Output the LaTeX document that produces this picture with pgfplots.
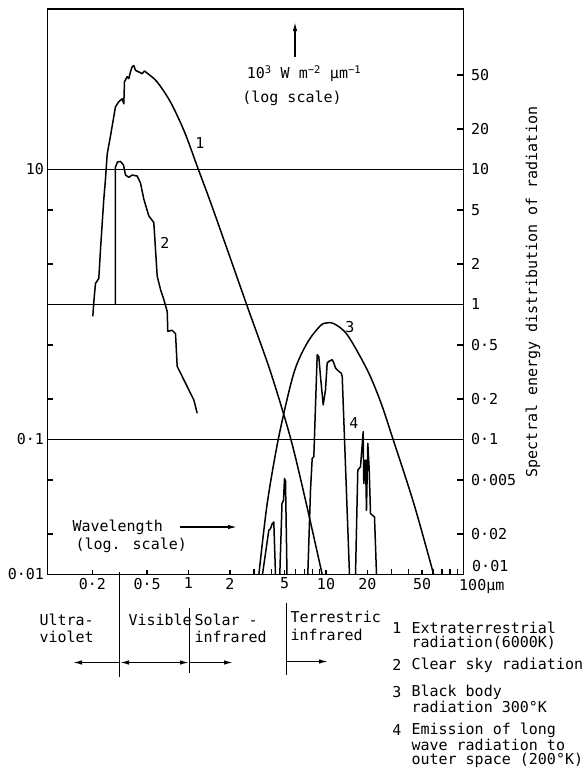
\documentclass[border=0pt]{standalone}
\usepackage{pgfplots}
\pgfplotsset{compat=1.18}
\usepackage{fontspec}
\setmainfont{DejaVu Sans Mono}
\usetikzlibrary{arrows.meta}
\newcommand{\lbl}{\fontsize{15}{15}\selectfont}
\pgfplotsset{cv/.style={black, solid, line width=1.5pt, line join=round, mark=none}}
\begin{document}
\begin{tikzpicture}[>={Latex[length=9pt,width=4.5pt]}]
\useasboundingbox (0pt,0pt) rectangle (585pt,-774pt);
\begin{axis}[
  at={(47.5pt,-574.5pt)}, anchor=south west,
  width=416pt, height=565.5pt, scale only axis,
  xmode=log, ymode=log,
  xmin=0.0943, xmax=100, ymin=0.01, ymax=154.5,
  axis line style={line width=1.6pt},
  tick align=inside,
  tick style={black, line width=1.4pt},
  major tick length=5pt, minor tick length=6pt,
  xtick pos=bottom, ytick pos=left,
  xtick={0.2,0.5,1,2,5,10,20,50},
  xticklabels={0·2,0·5,1,2,5,10,20,50},
  minor xtick={3,4,6,7,8,9,30,40,60,70,80,90},
  ytick={0.01,0.1,1,10},
  yticklabels={0·01,0·1,,10},
  minor ytick={0.02,0.05,0.2,0.5,2,5},
  ymajorgrids, major grid style={black, line width=1.4pt},
  ticklabel style={font=\lbl},
]
% 1 Extraterrestrial radiation (jagged rise)
\addplot[cv] coordinates {(0.2014,0.818)(0.2055,1.089)(0.2107,1.433)(0.2227,1.561)(0.2291,2.564)(0.2421,6.035)(0.2490,8.500)(0.2563,13.04)(0.2709,17.75)(0.2944,29.16)(0.3112,31.76)(0.3295,33.44)(0.3384,30.69)(0.3424,44.74)(0.3583,48.73)(0.3680,47.09)(0.3786,53.08)(0.3895,57.82)(0.4001,58.83)(0.4116,54.28)(0.4350,52.81)(0.4605,51.29)(0.4786,53.72)(0.5058,51.29)};
% 1 smooth descent
\addplot[cv, smooth, tension=0.5] coordinates {(0.5058,51.29)(0.5920,44.50)(0.7397,31.60)(0.9352,19.0)(1.176,10.09)(1.445,5.734)(1.912,2.564)(2.673,0.9714)(3.948,0.3176)(5.520,0.1026)(7.095,0.0355)(9.385,0.01)};
% 2 Clear sky radiation
\addplot[cv] coordinates {(0.2944,1.0)(0.2944,10.44)(0.3045,11.37)(0.3202,11.47)(0.3367,10.80)(0.3481,9.102)(0.3680,8.750)(0.3895,9.102)(0.4235,8.947)(0.4477,7.937)(0.4731,6.035)(0.5143,4.535)(0.5594,4.050)(0.5754,2.564)(0.5920,1.623)(0.6258,1.293)(0.6614,1.089)(0.7000,0.887)(0.7071,0.633)(0.7613,0.644)(0.8045,0.609)(0.8275,0.3477)(0.9000,0.2930)(1.005,0.2334)(1.093,0.1966)(1.157,0.1566)};
% 3 Black body 300K
\addplot[cv, smooth, tension=0.5] coordinates {(3.25,0.01)(3.736,0.03355)(4.536,0.1049)(5.834,0.3106)(7.300,0.519)(9.120,0.698)(10.20,0.731)(11.40,0.722)(14.26,0.598)(19.93,0.3287)(24.91,0.191)(30.3,0.105)(43.5,0.0336)(60.7,0.01)};
% 4 Emission to outer space
\addplot[cv] coordinates {(3.452,0.01)(3.837,0.02123)(3.948,0.02187)(4.061,0.02382)(4.172,0.02447)(4.293,0.01)};
\addplot[cv] coordinates {(4.613,0.01)(4.786,0.03355)(4.908,0.03549)(4.991,0.05146)(5.075,0.04913)(5.204,0.01)};
\addplot[cv] coordinates {(7.374,0.01)(7.715,0.04212)(7.937,0.07249)(8.155,0.07450)(8.630,0.4249)(8.864,0.4107)(9.120,0.2930)(9.541,0.1805)(9.917,0.2334)(10.20,0.3686)(10.48,0.3789)(11.10,0.3900)(11.40,0.3686)(11.73,0.3384)(12.39,0.3192)(12.90,0.3106)(13.12,0.2930)(14.82,0.01)};
\addplot[cv] coordinates {(16.39,0.01)(17.03,0.05933)(17.82,0.06279)(18.64,0.1143)(18.83,0.04724)(19.38,0.07041)(19.70,0.02990)(20.14,0.09370)(20.62,0.05933)(21.07,0.02827)(22.53,0.02667)(23.30,0.01)};
\end{axis}
\begin{axis}[
  at={(47.5pt,-574.5pt)}, anchor=south west,
  width=416pt, height=565.5pt, scale only axis,
  xmode=log, ymode=log,
  xmin=0.0943, xmax=100, ymin=0.01, ymax=154.5,
  hide x axis, axis y line*=right,
  axis line style={line width=1.6pt},
  tick align=inside,
  tick style={black, line width=1.4pt},
  major tick length=7pt, minor tick length=0pt,
  ytick={0.01,0.02,0.05,0.1,0.2,0.5,1,2,5,10,20,50},
  yticklabels={,0·02,0·005,0·1,0·2,0·5,1,2,5,10,20,50},
  ticklabel style={font=\lbl},
  yticklabel style={xshift=4pt},
]
\addplot[draw=none] coordinates {(1,1)};
\end{axis}
\begin{scope}[x=1pt,y=1pt]
\node[font=\lbl, anchor=west, inner sep=0pt] at (472,-566) {0·01};
\node[font=\lbl] at (200,-143) {1};
\node[font=\lbl] at (165,-243) {2};
\node[font=\lbl] at (350,-327) {3};
\node[font=\lbl] at (354,-423) {4};
\node[font=\lbl, rotate=90] at (533,-292) {Spectral energy distribution of radiation};
\draw[->, line width=1.4pt] (295,-57) -- (295,-22);
\node[font=\lbl] at (304,-74) {10\textsuperscript{3} W m\textsuperscript{−2} µm\textsuperscript{−1}};
\node[font=\lbl] at (292,-98) {(log scale)};
\node[font=\lbl, anchor=west] at (69,-527) {Wavelength};
\node[font=\lbl, anchor=west] at (72,-545) {(log. scale)};
\draw[->, line width=1.3pt] (180,-527) -- (237,-527);
\node[font=\lbl, anchor=west, inner sep=0pt] at (459,-586) {100µm};
\draw[line width=1.4pt] (119.5,-572) -- (119.5,-677);
\draw[line width=1.4pt] (189.5,-608) -- (189.5,-673);
\draw[line width=1.4pt] (286.5,-603) -- (286.5,-675);
\draw[->, line width=1.3pt] (119,-662.5) -- (73,-662.5);
\draw[<->, line width=1.3pt] (120,-662.5) -- (189,-662.5);
\draw[->, line width=1.3pt] (190,-662.5) -- (233,-662.5);
\draw[->, line width=1.3pt] (287,-661.5) -- (328,-661.5);
\node[font=\lbl, anchor=west] at (36,-620) {Ultra-};
\node[font=\lbl, anchor=west] at (36,-637) {violet};
\node[font=\lbl, anchor=west] at (125,-620) {Visible};
\node[font=\lbl, anchor=west] at (191,-620) {Solar -};
\node[font=\lbl, anchor=west] at (191,-637) {infrared};
\node[font=\lbl, anchor=west] at (287,-617) {Terrestric};
\node[font=\lbl, anchor=west] at (287,-635) {infrared};
\node[font=\lbl] at (397,-628) {1};
\node[font=\lbl, anchor=west] at (408,-628) {Extraterrestrial};
\node[font=\lbl, anchor=west] at (408,-643) {radiation(6000K)};
\node[font=\lbl] at (397,-665) {2};
\node[font=\lbl, anchor=west] at (408,-665) {Clear sky radiation};
\node[font=\lbl] at (397,-692) {3};
\node[font=\lbl, anchor=west] at (408,-692) {Black body};
\node[font=\lbl, anchor=west] at (408,-707) {radiation 300°K};
\node[font=\lbl] at (397,-730) {4};
\node[font=\lbl, anchor=west] at (408,-730) {Emission of long};
\node[font=\lbl, anchor=west] at (408,-745) {wave radiation to};
\node[font=\lbl, anchor=west] at (408,-760) {outer space (200°K)};
\end{scope}
\end{tikzpicture}
\end{document}
